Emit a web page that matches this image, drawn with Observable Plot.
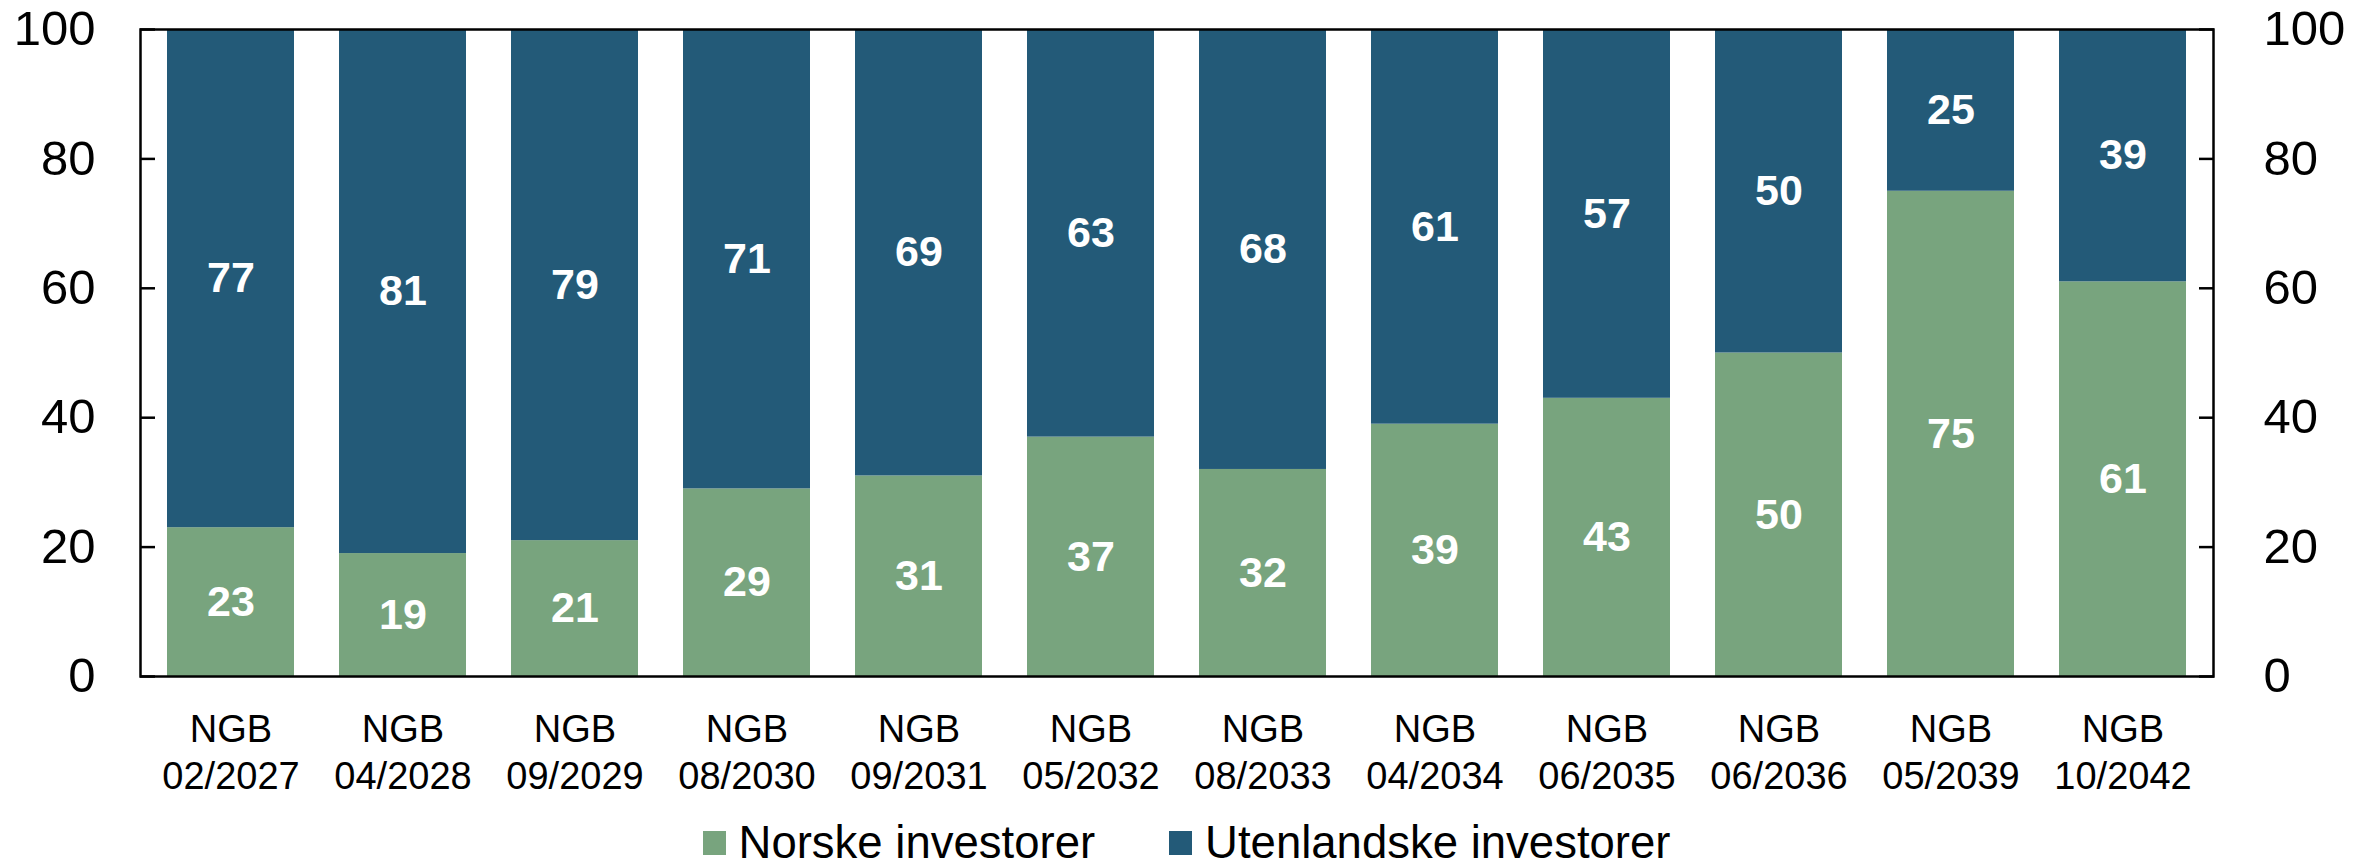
<!DOCTYPE html>
<html><head><meta charset="utf-8">
<script src="https://cdn.jsdelivr.net/npm/d3@7"></script>
<script src="https://cdn.jsdelivr.net/npm/@observablehq/plot@0.6"></script>
<style>
body{margin:0;background:#fff;font-family:"Liberation Sans",Arial,sans-serif;color:#000;}
#chart{width:2373px;height:800px;}
#legend{display:flex;justify-content:center;height:42px;padding-top:22px;font-size:45.5px;line-height:44px;width:2373px;}
.item{display:flex;align-items:center;}
.item + .item{margin-left:74px;}
.sw{width:23px;height:24px;margin-right:13px;}
</style></head><body><div id="chart"></div><div id="legend"></div>
<script>
const bonds = ["02/2027","04/2028","09/2029","08/2030","09/2031","05/2032","08/2033","04/2034","06/2035","06/2036","05/2039","10/2042"];
const norske = [23,19,21,29,31,37,32,39,43,50,75,61];
const utenlandske = [77,81,79,71,69,63,68,61,57,50,25,39];
const series = ["Norske investorer","Utenlandske investorer"];
const colors = ["#78A47E","#235A78"];
const yTicks = [0,20,40,60,80,100];

const data = bonds.flatMap((b,i)=>[
  {bond:b, series:series[0], value:norske[i]},
  {bond:b, series:series[1], value:utenlandske[i]}
]);

const plot = Plot.plot({
  width: 2373, height: 800,
  marginLeft: 140, marginRight: 160, marginTop: 29, marginBottom: 124,
  style: {fontFamily: "Liberation Sans, Arial, sans-serif", background: "#fff", color: "#000"},
  x: {domain: bonds, paddingInner: 0.26, paddingOuter: 0.13, label: null},
  y: {domain: [0,100], label: null},
  color: {domain: series, range: colors},
  marks: [
    Plot.barY(data, Plot.stackY({x:"bond", y:"value", z:"series", fill:"series"})),
    Plot.text(data, Plot.stackY({x:"bond", y:"value", z:"series", text: d=>String(d.value), fill:"white", fontSize:43, fontWeight:"bold"})),
    Plot.frame({stroke:"black", strokeWidth:2.5}),
    Plot.axisY(yTicks, {anchor:"left", tickSize:0, tickPadding:45, fontSize:49, label:null}),
    Plot.axisY(yTicks, {anchor:"right", tickSize:0, tickPadding:50, fontSize:49, label:null}),
    Plot.axisY(yTicks, {anchor:"left", tickSize:15, dx:15, tickFormat:()=>"", strokeWidth:2.5, label:null}),
    Plot.axisY(yTicks, {anchor:"right", tickSize:15, dx:-15, tickFormat:()=>"", strokeWidth:2.5, label:null}),
    Plot.axisX({tickSize:0, tickPadding:32, fontSize:38, lineHeight:1.24, tickFormat: d=>"NGB\n"+d, label:null})
  ]
});
document.getElementById("chart").appendChild(plot);

const legend = document.getElementById("legend");
series.forEach((s,i)=>{
  const item = document.createElement("div");
  item.className = "item";
  const sw = document.createElement("span");
  sw.className = "sw";
  sw.style.background = colors[i];
  const t = document.createElement("span");
  t.textContent = s;
  item.appendChild(sw); item.appendChild(t);
  legend.appendChild(item);
});
</script></body></html>
